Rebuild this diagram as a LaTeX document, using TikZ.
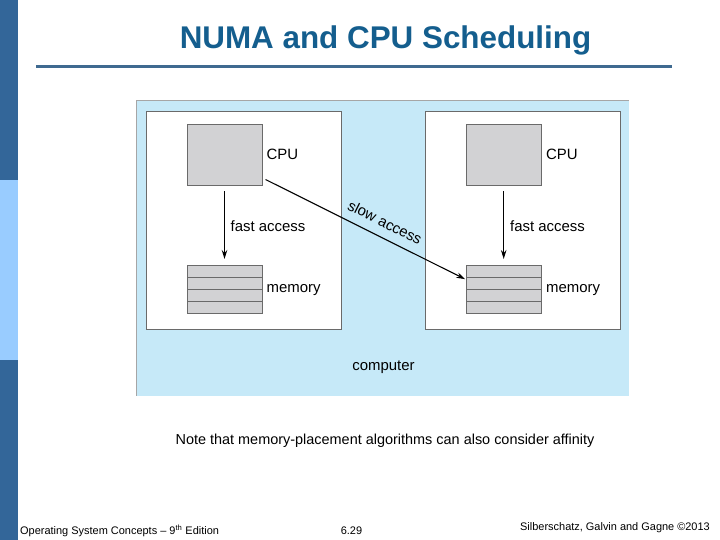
\documentclass[tikz,border=0pt]{standalone}
\usepackage{fontspec}
\setmainfont{Liberation Sans}
\usetikzlibrary{arrows.meta}
\definecolor{sidedark}{HTML}{336699}
\definecolor{sidelight}{HTML}{99CCFF}
\definecolor{titleblue}{HTML}{145E8E}
\definecolor{rulecol}{HTML}{3F6A90}
\definecolor{skyfill}{HTML}{C6E9F8}
\definecolor{boxgrey}{HTML}{D2D2D4}
\definecolor{edgegrey}{HTML}{6A6A6A}
\tikzset{
  panel/.style={draw=edgegrey, line width=0.9bp, fill=white, inner sep=0pt, outer sep=0pt, minimum width=195bp, minimum height=218bp},
  cpubox/.style={draw=edgegrey, line width=0.9bp, fill=boxgrey, inner sep=0pt, outer sep=0pt, minimum width=75bp, minimum height=61bp},
  membox/.style={draw=edgegrey, line width=0.9bp, fill=boxgrey, inner sep=0pt, outer sep=0pt, minimum width=75bp, minimum height=48bp},
  lbl/.style={font=\fontsize{15}{17}\selectfont, anchor=west, inner sep=0pt},
  arr/.style={line width=1.1bp, -{Stealth[length=9bp,width=5.5bp]}},
}
\begin{document}
\begin{tikzpicture}[x=1bp,y=-1bp]
\useasboundingbox (0,0) rectangle (720,540);
\fill[white] (0,0) rectangle (720,540);
% sidebar
\fill[sidedark] (0,0) rectangle (18,180);
\fill[sidelight] (0,180) rectangle (18,360);
\fill[sidedark] (0,360) rectangle (18,540);
% title
\node[font=\fontsize{31.5}{34}\selectfont\bfseries, text=titleblue, inner sep=0pt] (title) at (385.5,40) {NUMA and CPU Scheduling};
\draw[rulecol, line width=3bp] (36,67) -- (672,67);
% outer computer box
\fill[skyfill] (136,100) rectangle (628.5,395.5);
\draw[gray!70, line width=1bp] (136.5,395.5) -- (136.5,100.5) -- (628.5,100.5);
% panels
\node[panel] (p1) at (244.3,220) {};
\node[panel] (p2) at (523.3,220) {};
% CPUs
\node[cpubox] (cpu1) at (224.5,154.5) {};
\node[cpubox] (cpu2) at (503.7,154.5) {};
% memories
\node[membox] (mem1) at (224.5,289.2) {};
\node[membox] (mem2) at (503.7,289.2) {};
\foreach \m in {mem1,mem2}{
  \foreach \k in {12,24,36}{
    \draw[edgegrey, line width=0.9bp] ([yshift=-\k bp]\m.north west) -- ([yshift=-\k bp]\m.north east);
  }
}
% labels
\node[lbl] (c1) at (266.5,154) {CPU};
\node[lbl] (c2) at (546,154) {CPU};
\node[lbl] (f1) at (230.5,226) {fast access};
\node[lbl] (f2) at (510,226) {fast access};
\node[lbl] (m1) at (266.5,290) {memory};
\node[lbl] (m2) at (546,290) {memory};
\node[font=\fontsize{15}{17}\selectfont, inner sep=0pt] (comp) at (383.5,367.5) {computer};
% arrows
\draw[arr, shorten <=6.5bp, shorten >=6.2bp] (cpu1) -- (mem1);
\draw[arr, shorten <=6.5bp, shorten >=6.2bp] (cpu2) -- (mem2);
\coordinate (sstart) at ([shift={(3.5,-5.5)}]cpu1.south east);
\coordinate (send) at ([shift={(-1,14)}]mem2.north west);
\draw[arr] (sstart) -- node[pos=0.565, sloped, above=9bp, font=\fontsize{15}{17}\selectfont, inner sep=0pt] (slow) {slow access} (send);
% note
\node[font=\fontsize{14.5}{16}\selectfont, inner sep=0pt] (note) at (385,441) {Note that memory-placement algorithms can also consider affinity};
% footer
\node[font=\fontsize{11}{12}\selectfont, anchor=west, inner sep=0pt] (foot1) at (20,531) {Operating System Concepts -- 9\textsuperscript{th} Edition};
\node[font=\fontsize{11}{12}\selectfont, inner sep=0pt] (foot2) at (351.5,531) {6.29};
\node[font=\fontsize{11}{12}\selectfont, anchor=east, inner sep=0pt] (foot3) at (710,528) {Silberschatz, Galvin and Gagne ©2013};
\end{tikzpicture}
\end{document}
